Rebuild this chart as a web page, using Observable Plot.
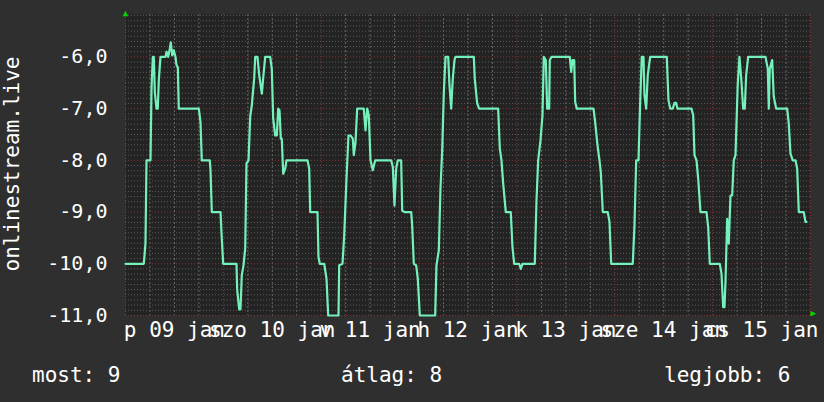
<!DOCTYPE html>
<html><head><meta charset="utf-8">
<script src="https://cdn.jsdelivr.net/npm/d3@7"></script>
<script src="https://cdn.jsdelivr.net/npm/@observablehq/plot@0.6"></script>
<style>html,body{margin:0;padding:0;background:#2f2f2f;overflow:hidden}#chart svg{display:block}</style>
</head><body><div id="chart"></div>
<script>
// Hours since Fri 09 Jan 00:00 and the plotted value
const hours = [0,4.49,4.9,5.15,6.13,6.38,6.7,6.94,7.19,7.6,7.92,8.17,8.58,9.81,10.06,10.47,10.86,11.11,11.45,11.85,12.26,12.51,12.83,13.07,17.98,18.39,18.71,20.67,20.85,21.17,23.3,23.54,23.96,27.22,27.39,27.88,28.2,28.52,28.94,29.36,29.67,30.17,30.58,30.97,31.56,31.81,32.37,32.79,33.43,33.84,34.26,35.49,35.88,36.22,36.71,37.11,37.45,37.77,38.09,38.33,38.68,39.17,39.48,44.64,45.05,45.3,47.09,47.33,47.65,48.73,49.3,49.71,52.24,52.41,53.22,53.64,54.2,54.69,55.18,55.75,55.99,56.41,56.82,58.44,58.86,59.28,59.67,60.09,60.65,61.24,65.16,65.56,65.97,66.39,66.78,67.61,67.86,68.42,70.07,70.31,70.71,71.29,71.69,72.18,75.95,76.27,76.84,77.25,77.67,78.06,78.48,79.14,79.46,79.88,80.27,80.69,80.93,85.42,85.66,86.25,86.74,91.4,91.8,92.21,92.63,93.27,94.49,94.91,95.33,96.55,96.95,97.36,100.38,100.8,101.21,101.78,102.27,102.59,103.08,103.42,103.91,104.06,104.48,108.96,109.31,109.63,110.04,110.29,110.68,114.78,115.19,115.76,116.25,116.57,117.06,118.28,118.7,119.12,124.41,124.83,125.25,125.81,126.23,126.62,127.04,127.28,127.7,128.09,128.68,132.75,133.17,133.59,134.22,134.64,135.05,135.38,138.81,139.23,139.55,140.04,140.45,141.02,142.49,142.91,143.3,145.75,146.17,146.58,146.9,147.15,147.57,147.96,148.38,148.79,149.18,149.6,150.16,150.58,151.07,151.48,151.88,152.22,152.71,156.96,157.52,157.77,158.01,158.6,158.99,159.58,162.28,162.67,163.09,163.65,164.32,164.73,165.13,166.35,166.77,167.01];
const values = [-10,-10,-9.6,-8,-8,-6.6,-6,-6,-6.68,-7,-7,-6.45,-6,-6,-5.9,-6,-5.84,-5.72,-5.97,-5.87,-6,-6.16,-6.2,-7,-7,-7.26,-8,-8,-8.19,-9,-9,-9.4,-10,-10,-10.5,-10.88,-10.88,-10.22,-10.03,-9.7,-8.06,-8,-7.16,-6.94,-6.42,-6,-6,-6.35,-6.71,-6.35,-6,-6,-6.23,-7.19,-7.52,-7.52,-7,-7.03,-7.58,-7.58,-8.26,-8.16,-8,-8,-8.16,-9,-9,-9.87,-10,-10,-10.29,-11,-11,-10.03,-10,-9.45,-8.35,-7.52,-7.52,-7.58,-7.9,-7.65,-7,-7,-7.42,-7,-7.13,-8,-8.19,-8,-8,-8.13,-8.87,-8.16,-8,-8,-8.97,-9,-9,-9.26,-10,-10.03,-10.29,-11,-11,-10.03,-9.74,-8.55,-7.81,-6.71,-6,-6,-6.55,-7,-6.42,-6.06,-6,-6,-6.42,-6.9,-7,-7,-7.77,-8,-8.45,-9,-9,-9.68,-10,-10,-10.1,-10,-10,-8.77,-8,-7.61,-7.13,-6,-6.06,-7,-7,-6.06,-6,-6,-6.29,-6.06,-6.06,-6.87,-7,-7,-7.26,-7.71,-8,-8.23,-9,-9,-9.19,-10,-10,-9.26,-8,-8,-6.87,-6,-6,-6.74,-7,-6.35,-6,-6,-6.84,-7,-7,-6.89,-6.89,-7,-7,-7.13,-7.9,-8,-8.35,-9,-9,-9.29,-10,-10,-10.19,-10.84,-10.84,-10.35,-9.13,-9.61,-8.68,-8.68,-8,-7.9,-6.52,-6,-6.48,-7,-7,-6.35,-6,-6,-6.23,-7,-6.23,-6.06,-6.77,-7,-7,-7.29,-7.87,-8,-8,-8.16,-9,-9,-9.19,-9.19];
const dayLabels = ["p 09 jan","szo 10 jan","v 11 jan","h 12 jan","k 13 jan","sze 14 jan","cs 15 jan"];
const yTickValues = [-11,-10,-9,-8,-7,-6];
const yTickLabels = ["-11,0","-10,0","-9,0","-8,0","-7,0","-6,0"];
const yTitle = "onlinestream.live";
const legendLabels = ["most: 9","átlag: 8","legjobb: 6"];

const start = Date.UTC(2015,0,9);
const H = 3600e3;
const data = hours.map((h,i)=>({t:new Date(start+h*H), v:values[i]}));
const xDomain = [new Date(start), new Date(start+168*H)];
const yDomain = [-11, -5.18];

const minorY = d3.range(-110,-51).filter(k=>k%10!==0).map(k=>k/10);
const minorX = d3.range(0,169,6).filter(h=>h%24!==0).map(h=>new Date(start+h*H));
const majorX = d3.range(0,169,24).map(h=>new Date(start+h*H));
const dayTicks = dayLabels.map((_,i)=>new Date(start+(i*24+12)*H));

const font = "'DejaVu Sans Mono', monospace";
const chart = Plot.plot({
  width:824, height:402,
  marginLeft:125, marginRight:14, marginTop:14, marginBottom:87,
  style:{background:"#2f2f2f", color:"#ffffff", fontFamily:font, fontSize:"20px"},
  x:{type:"utc", domain:xDomain},
  y:{domain:yDomain},
  marks:[
    Plot.frame({fill:"#232323", stroke:null}),
    Plot.ruleY(minorY, {y:d=>d, stroke:"#5a5a5a", strokeDasharray:"1,2", strokeWidth:1}),
    Plot.ruleX(minorX, {x:d=>d, stroke:"#666", strokeDasharray:"2,2", strokeWidth:1}),
    Plot.ruleY(yTickValues, {y:d=>d, stroke:"#8a3434", strokeDasharray:"1,2", strokeWidth:1}),
    Plot.ruleX(majorX, {x:d=>d, stroke:"#8a3434", strokeDasharray:"1,2", strokeWidth:1}),
    Plot.line(data, {x:"t", y:"v", stroke:"#74f0bb", strokeWidth:2.2, curve:"linear"}),
    Plot.axisY(yTickValues, {tickFormat:(d,i)=>yTickLabels[i], tickSize:0, tickPadding:18, fontSize:20, label:null, fill:"#ffffff"}),
    Plot.axisX(dayTicks, {tickFormat:(d,i)=>dayLabels[i], tickSize:0, tickPadding:7, fontSize:21, label:null, fill:"#ffffff"}),
    Plot.text(["▲"], {frameAnchor:"top-left", textAnchor:"middle", lineAnchor:"bottom", dy:1, fill:"#00d800", fontSize:9}),
    Plot.text(["▶"], {frameAnchor:"bottom-right", textAnchor:"start", lineAnchor:"middle", dx:0, dy:-2, fill:"#00d800", fontSize:9})
  ]
});
document.getElementById("chart").appendChild(chart);
const svg = d3.select(chart);
svg.append("text").attr("transform","translate(19,164) rotate(-90)")
  .attr("text-anchor","middle").attr("fill","#ffffff")
  .style("font-family",font).style("font-size","21px").text(yTitle);
const legendX = [32, 341, 664];
legendLabels.forEach((t,i)=>{
  svg.append("text").attr("x",legendX[i]).attr("y",382).attr("fill","#ffffff")
    .attr("text-anchor","start")
    .style("font-family",font).style("font-size","21px").text(t);
});
</script>
</body></html>
